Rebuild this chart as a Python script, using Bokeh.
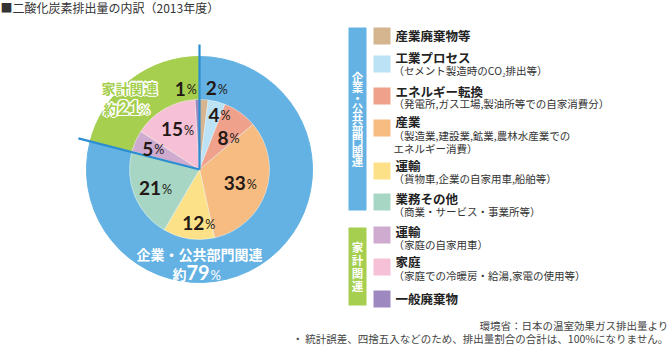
import math
from bokeh.plotting import figure
from bokeh.models import Range1d, ColumnDataSource
from bokeh.core.properties import value
from bokeh.embed import file_html
from bokeh.resources import INLINE

# ---------------- data ----------------
categories = ["産業廃棄物等", "工業プロセス", "エネルギー転換", "産業", "運輸",
              "業務その他", "運輸", "家庭", "一般廃棄物"]
sub_labels = ["", "（セメント製造時のCO₂排出等）", "（発電所,ガス工場,製油所等での自家消費分）",
              "（製造業,建設業,鉱業,農林水産業での", "（貨物車,企業の自家用車,船舶等）",
              "（商業・サービス・事業所等）", "（家庭の自家用車）", "（家庭での冷暖房・給湯,家電の使用等）", ""]
sub_labels2 = ["", "", "", " エネルギー消費）", "", "", "", "", ""]
shares = [2, 4, 8, 33, 12, 21, 5, 15, 1]
colors = ["#d4b58f", "#bce2f6", "#f0a18b", "#f6bc82", "#fde188",
          "#a7d7c4", "#cfaccf", "#f6c0d6", "#9e88c0"]
groups = ["企業・公共部門関連", "家計関連"]
group_shares = [79, 21]
group_colors = ["#63b2e3", "#a6cf4f"]
title = "■二酸化炭素排出量の内訳（2013年度）"
source_note = "環境省：日本の温室効果ガス排出量より"
footnote = "・ 統計誤差、四捨五入などのため、排出量割合の合計は、100%になりません。"

# ---------------- layout ----------------
W, H = 670, 345
JP = "Noto Sans CJK JP"
NUM = "Lato"
CX, CY = 199, H - 169
R_OUT, R_IN, R_LINE = 113, 70, 125
DARK = "#231815"

p = figure(width=W, height=H, x_range=Range1d(0, W), y_range=Range1d(0, H),
           output_backend="svg", toolbar_location=None, min_border=0,
           x_axis_location=None, y_axis_location=None)
p.grid.visible = False
p.outline_line_color = None
p.background_fill_color = "white"


def wedges(vals):
    tot = float(sum(vals))
    starts, ends, mids = [], [], []
    c = 0.0
    for v in vals:
        a0 = c / tot
        c += v
        a1 = c / tot
        starts.append(math.pi / 2 - 2 * math.pi * a0)
        ends.append(math.pi / 2 - 2 * math.pi * a1)
        mids.append(360 * (a0 + a1) / 2)  # degrees clockwise from top
    return starts, ends, mids


def txt(x, ys, s, size, color="#333333", align="left", font=JP, style="normal",
        halo=None, hr=1.4, baseline="middle"):
    if halo is not None:
        k = hr
        offs = [(dx * k, dy * k) for dx, dy in
                [(1, 0), (-1, 0), (0, 1), (0, -1), (0.7, 0.7), (-0.7, 0.7), (0.7, -0.7), (-0.7, -0.7)]]
        for dx, dy in offs:
            p.text(x=[x + dx], y=[H - ys + dy], text=[s], text_font=value(font),
                   text_font_size=value(f"{size}px"), text_font_style=style,
                   text_color=halo, text_align=align, text_baseline=baseline)
    p.text(x=[x], y=[H - ys], text=[s], text_font=value(font),
           text_font_size=value(f"{size}px"), text_font_style=style,
           text_color=color, text_align=align, text_baseline=baseline)


# outer ring
gs, ge, gm = wedges(group_shares)
p.wedge(source=ColumnDataSource(dict(s=gs, e=ge, c=group_colors)), x=CX, y=CY,
        radius=R_OUT, start_angle="s", end_angle="e", direction="clock",
        fill_color="c", line_color="c")

# inner pie
s, e, m = wedges(shares)
p.wedge(source=ColumnDataSource(dict(s=s, e=e, c=colors)), x=CX, y=CY,
        radius=R_IN, start_angle="s", end_angle="e", direction="clock",
        fill_color="c", line_color="white", line_width=0.6, line_alpha=0.7)

# divider lines between groups
xs0, ys0, xs1, ys1 = [], [], [], []
for a in gs:
    xs0.append(CX); ys0.append(CY)
    xs1.append(CX + R_LINE * math.cos(a)); ys1.append(CY + R_LINE * math.sin(a))
p.segment(x0=xs0, y0=ys0, x1=xs1, y1=ys1, line_color="#2b8ed2", line_width=2.2)

# inner labels: radius & angular nudge
lab_r = [83, 58, 43, 43, 54, 48, 51, 46, 82]
lab_nudge = [8.3, 5.7, 6.4, 0, -8, -1, 0, 1.5, -8]
for v, mid, r, dn in zip(shares, m, lab_r, lab_nudge):
    ang = math.radians(mid + dn)
    lx = CX + r * math.sin(ang)
    ly = CY + r * math.cos(ang)
    nd = len(str(v))
    anchor = lx + (nd * 10.6 - 10) / 2
    p.text(x=[anchor], y=[ly], text=[str(v)], text_font=value(NUM),
           text_font_size="19px", text_font_style="bold", text_color=DARK,
           text_align="right", text_baseline="middle")
    p.text(x=[anchor + 1], y=[ly - 1], text=["%"], text_font=value(NUM),
           text_font_size="12.5px", text_color=DARK, text_align="left",
           text_baseline="middle")

# ring labels
GREEN = group_colors[1]
txt(129, 87, groups[1], 14, color=GREEN, align="center", style="bold", halo="white")
txt(117, 108, "約", 14, color=GREEN, align="right", style="bold", halo="white")
txt(117, 107, str(group_shares[1]), 20, color=GREEN, font=NUM, style="bold", halo="white")
txt(139, 109, "%", 13, color=GREEN, font=NUM, halo="white")

txt(199, 253, groups[0], 14, color="white", align="center", style="bold")
txt(186, 273, "約", 14, color="white", align="right", style="bold")
txt(186, 272, str(group_shares[0]), 20, color="white", font=NUM, style="bold")
txt(210, 274, "%", 13, color="white", font=NUM)

# legend group bars
bar_top = [27, 227]
bar_bot = [210, 305]
p.quad(left=[348, 348], right=[366, 366], top=[H - t for t in bar_top],
       bottom=[H - b for b in bar_bot], fill_color=group_colors, line_color=None)
spacing = [10.6, 13]
for gname, t, b, sp in zip(groups, bar_top, bar_bot, spacing):
    n = len(gname)
    mid = (t + b) / 2
    for i, ch in enumerate(gname):
        yy = mid - (n - 1) / 2 * sp + i * sp
        txt(357, yy, ch, 11.5, color="white", align="center", style="bold")

# legend swatches
sw_top = [27, 55, 87, 119, 162, 193, 226, 258, 290]
p.quad(left=[373] * len(colors), right=[390] * len(colors),
       top=[H - t for t in sw_top], bottom=[H - t - 17 for t in sw_top],
       fill_color=colors, line_color=None)
title_y = [35, 57, 91, 121, 165, 198, 231, 261, 298]
sub_y = [0, 70, 103, 135, 177.5, 211, 244, 275, 0]
for cat, sl, sl2, ty, sy in zip(categories, sub_labels, sub_labels2, title_y, sub_y):
    txt(395, ty, cat, 12.5, color="#222222", style="bold")
    if sl:
        txt(393, sy, sl, 10.5, color="#333333")
    if sl2:
        txt(393, sy + 13, sl2, 10.5, color="#333333")

# titles & notes
txt(0, 7, title, 12, color="#333333")
txt(668, 325, source_note, 10.5, color="#444444", align="right")
txt(668, 338, footnote, 10.5, color="#444444", align="right")

open("out.html", "w").write(file_html(p, INLINE))
